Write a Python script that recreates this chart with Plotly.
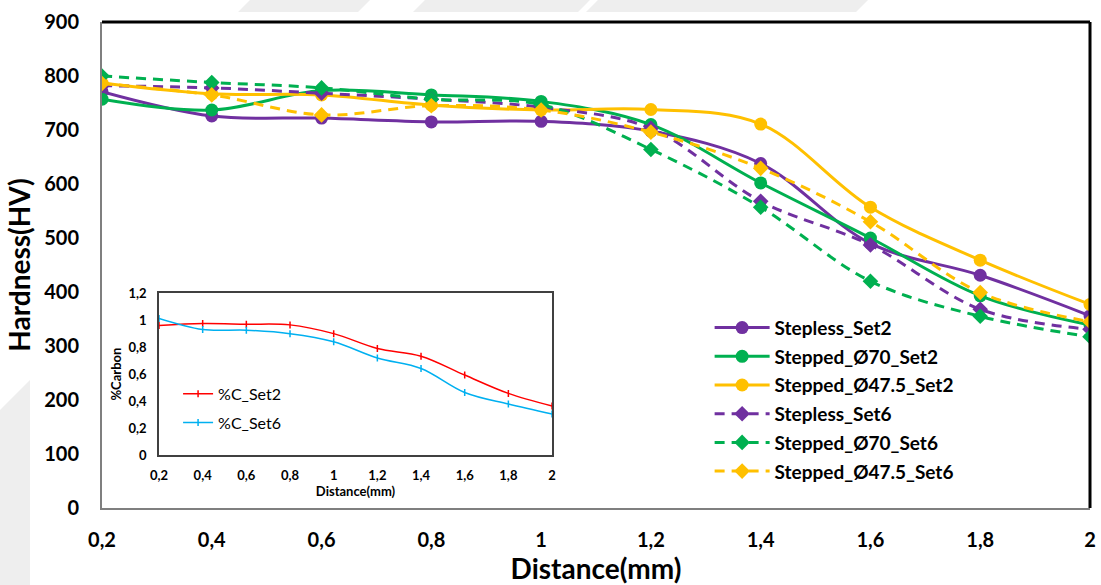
import plotly.graph_objects as go

# Distance from surface (mm)
distance = [0.2, 0.4, 0.6, 0.8, 1.0, 1.2, 1.4, 1.6, 1.8, 2.0]
distance_labels = ["0,2", "0,4", "0,6", "0,8", "1", "1,2", "1,4", "1,6", "1,8", "2"]

# Hardness profiles (HV)
stepless_set2 = [771, 726, 722, 715, 716, 698, 638, 490, 431, 356]
stepped70_set2 = [757, 737, 773, 765, 753, 710, 602, 500, 393, 339]
stepped475_set2 = [787, 767, 765, 746, 737, 738, 711, 557, 459, 377]
stepless_set6 = [782, 778, 768, 757, 742, 703, 568, 487, 368, 331]
stepped70_set6 = [800, 788, 778, 757, 747, 664, 557, 420, 355, 317]
stepped475_set6 = [786, 765, 728, 745, 737, 696, 629, 530, 399, 345]

# Carbon content profiles (%C)
carbon_set2 = [0.96, 0.975, 0.97, 0.965, 0.90, 0.79, 0.733, 0.593, 0.457, 0.363]
carbon_set6 = [1.012, 0.93, 0.926, 0.90, 0.84, 0.72, 0.642, 0.464, 0.378, 0.304]

hv_ticks = [0, 100, 200, 300, 400, 500, 600, 700, 800, 900]
c_ticks = [0, 0.2, 0.4, 0.6, 0.8, 1.0, 1.2]
c_tick_labels = ["0", "0,2", "0,4", "0,6", "0,8", "1", "1,2"]

PURPLE = "#7030A0"
GREEN = "#00B050"
YELLOW = "#FFC000"
FONT = "Lato"

W, H = 1101, 585
M_L, M_R, M_T, M_B = 102, 11, 22, 77

series = [
    ("Stepless_Set2", stepless_set2, PURPLE, "solid", "circle"),
    ("Stepped_Ø70_Set2", stepped70_set2, GREEN, "solid", "circle"),
    ("Stepped_Ø47.5_Set2", stepped475_set2, YELLOW, "solid", "circle"),
    ("Stepless_Set6", stepless_set6, PURPLE, "10px,7px", "diamond"),
    ("Stepped_Ø70_Set6", stepped70_set6, GREEN, "10px,7px", "diamond"),
    ("Stepped_Ø47.5_Set6", stepped475_set6, YELLOW, "10px,7px", "diamond"),
]

fig = go.Figure()

for i, (name, vals, color, dash, symbol) in enumerate(series):
    fig.add_trace(go.Scatter(
        x=distance, y=vals, name=name, mode="lines+markers",
        line=dict(color=color, width=3, dash=dash, shape="spline", smoothing=1.0),
        marker=dict(symbol=symbol, size=13 if symbol == "circle" else 12, color=color),
        legendgroup=f"g{i}", legend="legend",
        xaxis="x", yaxis="y",
    ))

for i, (name, vals, color) in enumerate([
    ("%C_Set2", carbon_set2, "#FF0000"),
    ("%C_Set6", carbon_set6, "#00B0F0"),
]):
    fig.add_trace(go.Scatter(
        x=distance, y=vals, name=name, mode="lines+markers",
        line=dict(color=color, width=1.5, shape="spline", smoothing=1.0),
        marker=dict(symbol="line-ns", size=5, color=color,
                    line=dict(color=color, width=1.5)),
        legendgroup=f"c{i}", legend="legend2",
        xaxis="x2", yaxis="y2",
    ))

bold = dict(family=FONT, weight="bold", color="#000000")


def to_paper(px, py):
    pw, ph = W - M_L - M_R, H - M_T - M_B
    return (px - M_L) / pw, (H - M_B - py) / ph


# faint background marks along the top and left edges (page pixels)
backdrop = [
    [(250, 0), (370, 0), (358, 12), (238, 12)],
    [(425, 0), (590, 0), (578, 12), (413, 12)],
    [(598, 0), (868, 0), (856, 12), (586, 12)],
    [(0, 410), (30, 380), (30, 585), (0, 585)],
]

shapes = [
    # dark frame on the top and right edges of the main plot
    dict(type="line", xref="paper", yref="paper", x0=0, x1=1, y0=1, y1=1,
         line=dict(color="#000000", width=3)),
    dict(type="line", xref="paper", yref="paper", x0=1, x1=1, y0=0, y1=1,
         line=dict(color="#000000", width=3)),
]
for poly in backdrop:
    pts = [to_paper(x, y) for x, y in poly]
    path = "M" + " L".join(f"{x:.4f},{y:.4f}" for x, y in pts) + " Z"
    shapes.append(dict(type="path", xref="paper", yref="paper", path=path,
                       layer="below", fillcolor="#eeeeee", line=dict(width=0)))

fig.update_layout(
    width=W, height=H,
    margin=dict(l=M_L, r=M_R, t=M_T, b=M_B, autoexpand=False),
    paper_bgcolor="white", plot_bgcolor="white",
    separators=",.",
    showlegend=True,
    xaxis=dict(
        domain=[0, 1], range=[0.2, 2], tickvals=distance, ticktext=distance_labels,
        showline=True, linecolor="#7f7f7f", linewidth=2, ticks="",
        showgrid=False, zeroline=False, ticklabelstandoff=13, automargin=False,
        tickfont=dict(size=20, **bold),
        title=dict(text="Distance(mm)", font=dict(size=28, **bold), standoff=8),
    ),
    yaxis=dict(
        domain=[0, 1], range=[0, 900], tickvals=hv_ticks,
        showline=True, linecolor="#7f7f7f", linewidth=2, ticks="",
        showgrid=False, zeroline=False, ticklabelstandoff=17, automargin=False,
        tickfont=dict(size=20, **bold),
        title=dict(text="Hardness(HV)", font=dict(size=28, **bold), standoff=5),
    ),
    xaxis2=dict(
        domain=[0.0577, 0.4555], anchor="y2", range=[0.2, 2],
        tickvals=distance, ticktext=distance_labels,
        showline=True, mirror=True, linecolor="#404040", linewidth=1.5,
        ticks="", showgrid=False, zeroline=False, ticklabelstandoff=8,
        automargin=False,
        tickfont=dict(size=13, **bold),
        title=dict(text="Distance(mm)", font=dict(size=13, **bold), standoff=4),
    ),
    yaxis2=dict(
        domain=[0.109, 0.442], anchor="x2", range=[0, 1.2],
        tickvals=c_ticks, ticktext=c_tick_labels,
        showline=True, mirror=True, linecolor="#404040", linewidth=1.5,
        ticks="", showgrid=False, zeroline=False, ticklabelstandoff=8,
        automargin=False,
        tickfont=dict(size=13, **bold),
        title=dict(text="%Carbon", font=dict(size=13, **bold), standoff=4),
    ),
    legend=dict(
        x=0.615, y=0.41, xanchor="left", yanchor="top",
        bgcolor="rgba(0,0,0,0)", borderwidth=0, tracegroupgap=1,
        font=dict(size=19, **bold), itemwidth=55,
    ),
    legend2=dict(
        x=0.077, y=0.27, xanchor="left", yanchor="top",
        bgcolor="rgba(0,0,0,0)", borderwidth=0, tracegroupgap=5,
        font=dict(size=16, family=FONT, color="#000000"), itemwidth=30,
    ),
    shapes=shapes,
)

fig.write_html("out.html")
